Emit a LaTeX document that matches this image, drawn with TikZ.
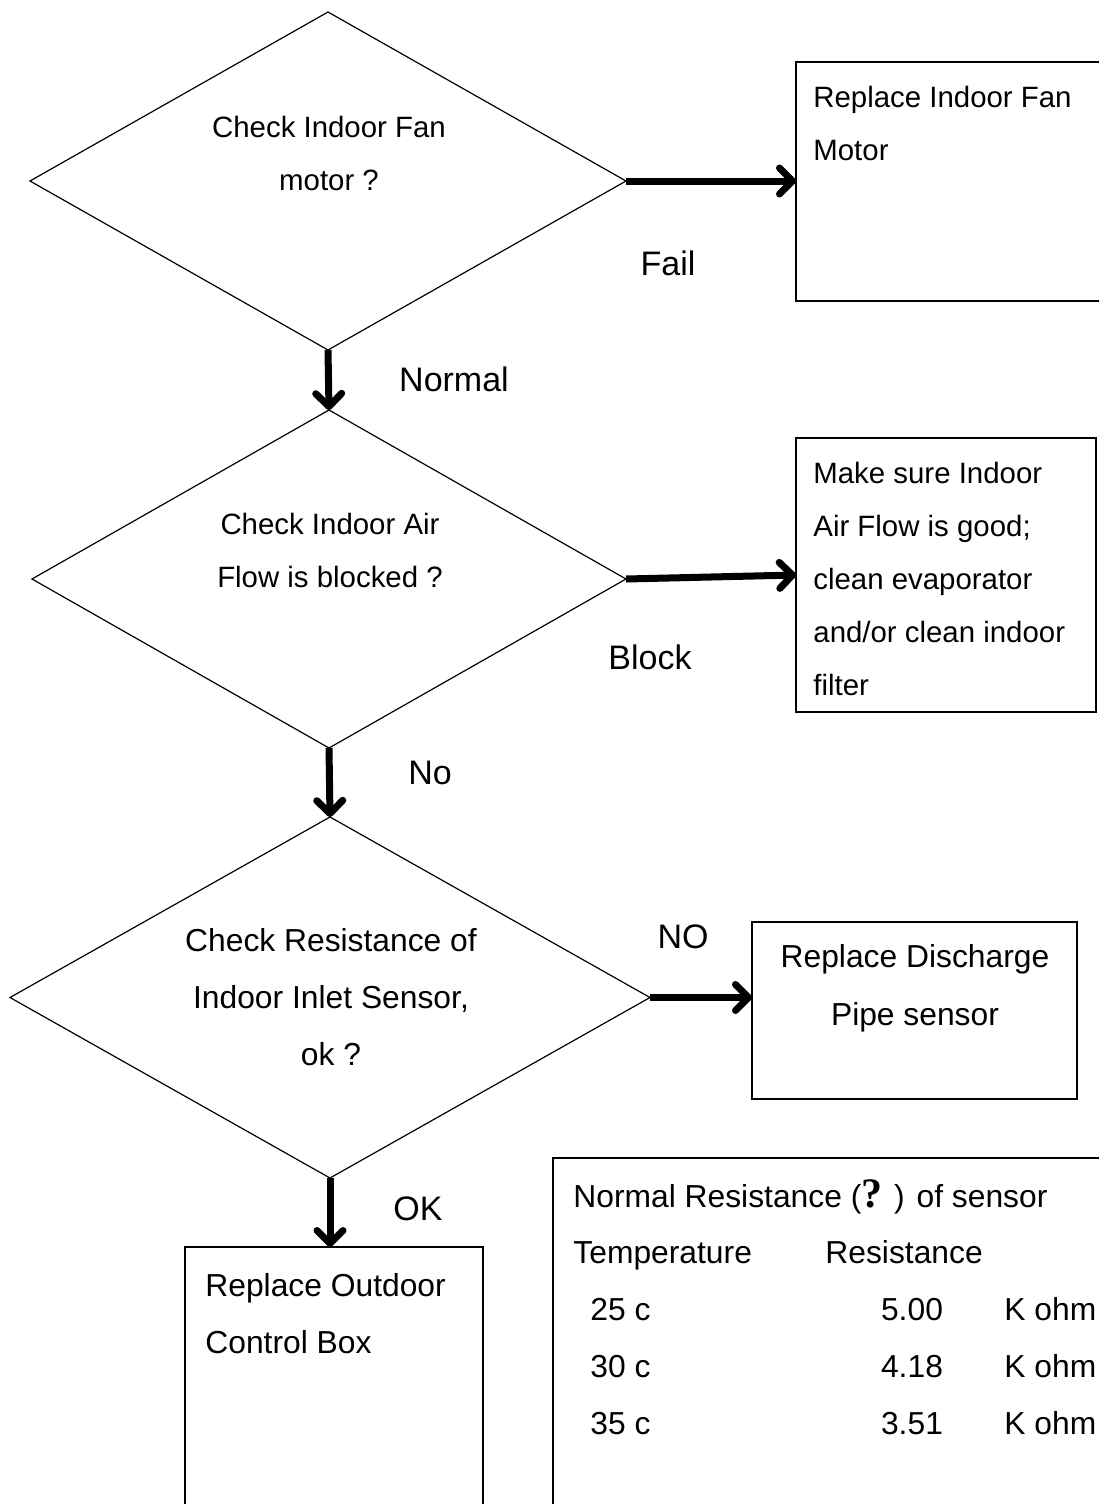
\documentclass[tikz,border=0pt]{standalone}
\usepackage{fontspec}
\setmainfont{Liberation Sans}
\newfontfamily\qmarkfont{Liberation Serif}
\usetikzlibrary{shapes.geometric,arrows.meta}

\tikzset{
  decision/.style={draw, diamond, line width=0.6pt, inner sep=0pt, outer sep=0pt},
  box/.style={draw, rectangle, line width=0.8pt, inner sep=0pt, outer sep=0pt, anchor=north west},
  flow/.style={line width=3.5pt, -{Straight Barb[length=6.5pt,width=13pt,round]}},
  txt/.style={font=\fontsize{14.7}{26.5}\selectfont, inner sep=0pt},
  wtxt/.style={font=\fontsize{15.9}{28.5}\selectfont, inner sep=0pt},
  lbl/.style={font=\fontsize{17}{20}\selectfont, inner sep=0pt},
}

\begin{document}
\begin{tikzpicture}[x=0.5pt, y=-0.5pt]
    \useasboundingbox (0,0) rectangle (1098,1504);

    % decisions
    \node[decision, minimum width=298pt, minimum height=169pt] (fan) at (328,181) {};
    \node[txt, align=center] at (329,153) {Check Indoor Fan\\motor ?};
    \node[decision, minimum width=297pt, minimum height=169pt] (air) at (329,579) {};
    \node[txt, align=center] at (330,550) {Check Indoor Air\\Flow is blocked ?};
    \node[decision, minimum width=320pt, minimum height=180.5pt] (sensor) at (330,997.5) {};
    \node[wtxt, align=center] at (331,997) {Check Resistance of\\Indoor Inlet Sensor,\\ok ?};

    % action boxes
    \node[box, minimum width=157pt, minimum height=119.5pt] (fanbox) at (796,62) {};
    \node[txt, align=left, anchor=west] at (813,123.5) {Replace Indoor Fan\\Motor};
    \node[box, minimum width=150pt, minimum height=137pt] (airbox) at (796,438) {};
    \node[txt, align=left, anchor=west] at (813,578.5) {Make sure Indoor\\Air Flow is good;\\clean evaporator\\and/or clean indoor\\filter};
    \node[box, minimum width=162.5pt, minimum height=88.5pt] (pipebox) at (752,922) {};
    \node[font=\fontsize{15.9}{29}\selectfont, inner sep=0pt, align=center] at (915,988) {Replace Discharge\\Pipe sensor};
    \node[box, minimum width=149pt, minimum height=140pt] (ctrlbox) at (185,1247) {};
    \node[wtxt, align=left, anchor=west] at (205,1313.5) {Replace Outdoor\\Control Box};

    % resistance table
    \node[box, minimum width=280pt, minimum height=185pt] (table) at (553,1158) {};
    \node[wtxt, anchor=base west] (title) at (573,1207) {Normal Resistance ({\qmarkfont\bfseries\fontsize{21}{21}\selectfont ?} ) of sensor};
    \node[wtxt, anchor=base west] (temphead) at (573,1263) {Temperature};
    \node[wtxt, anchor=base west] (reshead) at (825,1263) {Resistance};
    \foreach \tc/\res [count=\i] in {25/5.00, 30/4.18, 35/3.51} {
        \node[wtxt, anchor=base west] (temp\i) at (590,1263+57*\i) {\tc\ c};
        \node[wtxt, anchor=base] (res\i) at (912,1263+57*\i) {\res};
        \node[wtxt, anchor=base west] (unit\i) at (1004,1263+57*\i) {K ohm};
    }

    % connectors
    \draw[flow] (fan.east) -- (fan.east -| fanbox.west);
    \draw[flow] (air.east) -- (airbox.west);
    \draw[flow] (sensor.east) -- (sensor.east -| pipebox.west);
    \draw[flow] (fan.south) -- (air.north);
    \draw[flow] (air.south) -- (sensor.north);
    \draw[flow] (sensor.south) -- (sensor.south |- ctrlbox.north);

    % labels
    \node[lbl] at (668,263) {Fail};
    \node[lbl] at (454,379) {Normal};
    \node[lbl] at (650,657) {Block};
    \node[lbl] at (430,773) {No};
    \node[lbl] at (683,937) {NO};
    \node[lbl] at (418,1209) {OK};
\end{tikzpicture}
\end{document}
